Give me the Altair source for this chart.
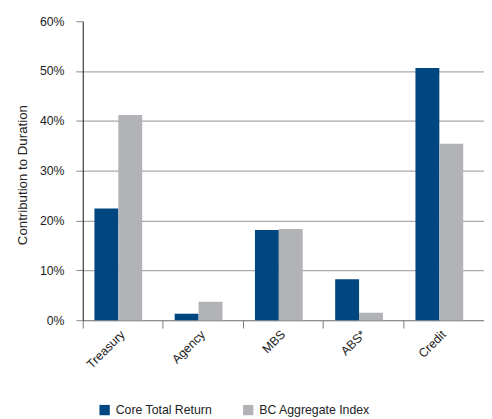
import altair as alt
import pandas as pd

categories = ["Treasury", "Agency", "MBS", "ABS*", "Credit"]
core_total_return = [0.224, 0.013, 0.181, 0.082, 0.506]
bc_aggregate_index = [0.412, 0.037, 0.183, 0.015, 0.354]
series_names = ["Core Total Return", "BC Aggregate Index"]
y_ticks = [0, 0.1, 0.2, 0.3, 0.4, 0.5, 0.6]

rows = []
for i, c in enumerate(categories):
    rows.append({"category": c, "series": series_names[0], "value": core_total_return[i]})
    rows.append({"category": c, "series": series_names[1], "value": bc_aggregate_index[i]})
df = pd.DataFrame(rows)

FONT = "Liberation Sans"

chart = alt.Chart(df).mark_bar().encode(
    x=alt.X(
        "category:N",
        sort=categories,
        scale=alt.Scale(paddingInner=0, paddingOuter=0),
        axis=alt.Axis(
            title=None,
            bandPosition=0,
            labelAngle=-45,
            labelAlign="right",
            labelBaseline="middle",
            labelOffset=0,
            labelPadding=4,
            labelFontSize=12.5,
            labelFont=FONT,
            labelColor="#222222",
            tickSize=8,
            tickColor="#777777",
            domainColor="#888888",
            grid=False,
        ),
    ),
    xOffset=alt.XOffset(
        "series:N",
        sort=series_names,
        scale=alt.Scale(paddingOuter=0.68, align=0.36),
    ),
    y=alt.Y(
        "value:Q",
        scale=alt.Scale(domain=[0, 0.6], nice=False),
        axis=alt.Axis(
            title="Contribution to Duration",
            titleFont=FONT,
            titleFontSize=13.5,
            titleFontWeight="normal",
            titleColor="#222222",
            titleAngle=270,
            titleAlign="center",
            titleBaseline="alphabetic",
            titleX=-57,
            titleY=156,
            values=y_ticks,
            format=".0%",
            labelFont=FONT,
            labelFontSize=12.5,
            labelColor="#222222",
            labelPadding=12,
            tickSize=7,
            tickColor="#888888",
            domainColor="#111111",
            grid=True,
            gridColor="#aaaaaa",
            gridWidth=1.3,
            gridOpacity=alt.condition("datum.value >= 0.6", alt.value(0), alt.value(1)),
        ),
    ),
    color=alt.Color(
        "series:N",
        sort=series_names,
        scale=alt.Scale(domain=series_names, range=["#004680", "#B2B3B6"]),
        legend=alt.Legend(
            title=None,
            orient="none",
            direction="horizontal",
            legendX=16,
            legendY=389,
            symbolType="square",
            symbolSize=110,
            symbolStrokeWidth=0,
            symbolOpacity=1,
            labelFont=FONT,
            labelFontSize=12.5,
            labelColor="#222222",
            labelOffset=5,
            columnPadding=30,
            padding=0,
        ),
    ),
).properties(
    width=408,
    height=304,
    autosize=alt.AutoSizeParams(type="none"),
    padding={"left": 76, "top": 10, "right": 0, "bottom": 97},
).configure_view(stroke=None)

chart.save("out.html", embed_options={"renderer": "svg", "actions": False})
